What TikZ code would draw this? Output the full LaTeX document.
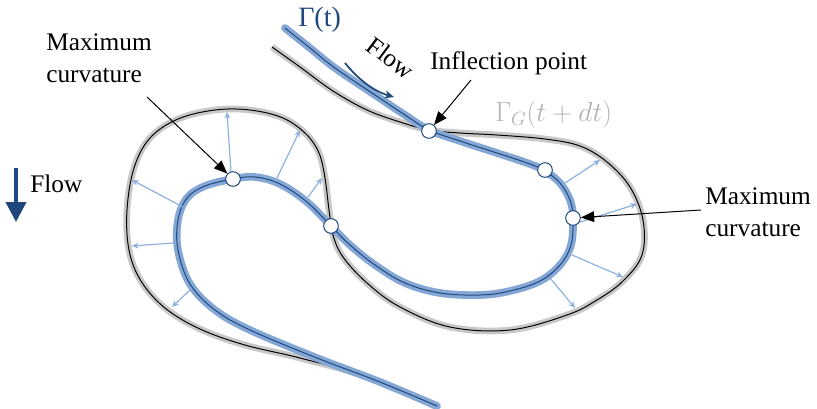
\documentclass[tikz,border=0pt]{standalone}
\usepackage{fontspec}
\setmainfont{Liberation Serif}
\usetikzlibrary{arrows.meta}
\definecolor{navy}{RGB}{31,73,125}
\definecolor{lblue}{RGB}{132,167,214}
\definecolor{arrblue}{RGB}{141,177,222}
\definecolor{lgray}{RGB}{200,200,200}
\definecolor{tgray}{RGB}{178,178,178}

\begin{document}
\begin{tikzpicture}[x=0.75pt,y=0.75pt,yscale=-1,xscale=1,
  dot/.style={circle,draw=navy,fill=white,line width=0.75pt,inner sep=0pt,minimum size=11pt},
  normal/.style={arrblue,line width=0.9pt,-{Stealth[length=5pt,width=4.5pt]}},
  annot/.style={black,line width=0.75pt,-{Triangle[length=10pt,width=8pt]}},
  lbl/.style={inner sep=0.75pt,font=\fontsize{19}{24}\selectfont,align=left},
]
\useasboundingbox (0,0) rectangle (817,408);

%Curve Lines: front at t+dt
\draw [black,line width=0.75pt,preaction={draw=lgray,line width=5pt}] plot [smooth,tension=0.6] coordinates {
  (272,47) (300,67) (333,91) (367,110) (400,122) (429,130) (460,133) (497,135)
  (545,139) (580,146) (607,162) (630,187) (643,220) (642,255) (623,281) (597,300)
  (567,315) (510,330) (450,327) (400,307) (367,283) (343,257) (333,235) (329,210)
  (325,178) (319,153) (306,134) (283,118) (250,110) (215,110) (178,119) (150,138)
  (134,168) (127,210) (129,250) (141,281) (165,308) (200,329) (245,345) (300,358)
  (367,377) (437,407)};
%Curve Lines: front at t
\draw [navy,line width=0.75pt,preaction={draw=lblue,line width=5.75pt,line cap=round}] plot [smooth,tension=0.6] coordinates {
  (285,28) (310,48) (335,68) (375,95) (405,115) (429,130) (460,141) (497,153)
  (530,164) (545,171) (560,183) (570,200) (573,218) (571,245) (560,265) (540,281)
  (510,291) (480,295) (440,293) (405,283) (375,265) (350,245) (331,226) (307,202)
  (280,184) (255,177) (233,179) (205,186) (187,198) (178,220) (178,250) (190,284)
  (215,310) (250,330) (317,358) (380,382) (437,406)};

%Straight Lines: normal velocity
\draw [normal] (231,172) -- (227,112);
\draw [normal] (277,178) -- (300,130);
\draw [normal] (308,197) -- (322,178);
\draw [normal] (183,207) -- (132,180);
\draw [normal] (173,243) -- (132,246);
\draw [normal] (192,288) -- (172,307);
\draw [normal] (565,183) -- (600,160);
\draw [normal] (580,222) -- (637,204);
\draw [normal] (572,255) -- (623,277);
\draw [normal] (550,278) -- (575,308);

% Points
\node [dot] (cmaxl) at (233,179) {};
\node [dot] (ccross) at (331,226) {};
\node [dot] (cinfl) at (429,131) {};
\node [dot] (cturn) at (545,170) {};
\node [dot] (cmaxr) at (573,218) {};

% Text Node
\node [lbl,anchor=north west] (tmaxl) at (45,32) {Maximum\\curvature};
% Text Node
\node [lbl,anchor=base west] (tinfl) at (429,69) {Inflection point};
% Text Node
\node [lbl,anchor=north west] (tmaxr) at (704,186) {Maximum\\curvature};
% Text Node
\node [lbl,anchor=base west] (tflowl) at (29,192) {Flow};
% Text Node
\node [lbl,rotate=-37] (tflowr) at (391,58) {Flow};
% Text Node
\node [lbl,anchor=base west,text=navy,font=\fontsize{21}{24}\selectfont] (tgam) at (297,26) {Γ(t)};
% Text Node
\node [lbl,anchor=base west,text=tgray,font=\fontsize{20}{24}\selectfont] (tgamg) at (494,121) {$\Gamma_{G}(t+dt)$};

% Annotation arrows
\coordinate (amaxl) at (147,97);
\coordinate (ainfl) at (471,80);
\coordinate (amaxr) at (701,210);
\draw [annot] (amaxl) -- (cmaxl);
\draw [annot] (ainfl) -- (cinfl);
\draw [annot] (amaxr) -- (cmaxr);

% Flow arrows
\coordinate (fltop) at (16,168);
\coordinate (flbot) at (16,222);
\draw [navy,line width=3pt,-{Triangle[length=15pt,width=15pt]}] (fltop) -- (flbot);
\coordinate (fcs) at (345,63);
\coordinate (fce) at (394,97);
\draw [navy,line width=1.3pt,-{Stealth[length=7pt,width=6pt]}] (fcs) .. controls (358,79) and (373,91) .. (fce);

\end{tikzpicture}
\end{document}
